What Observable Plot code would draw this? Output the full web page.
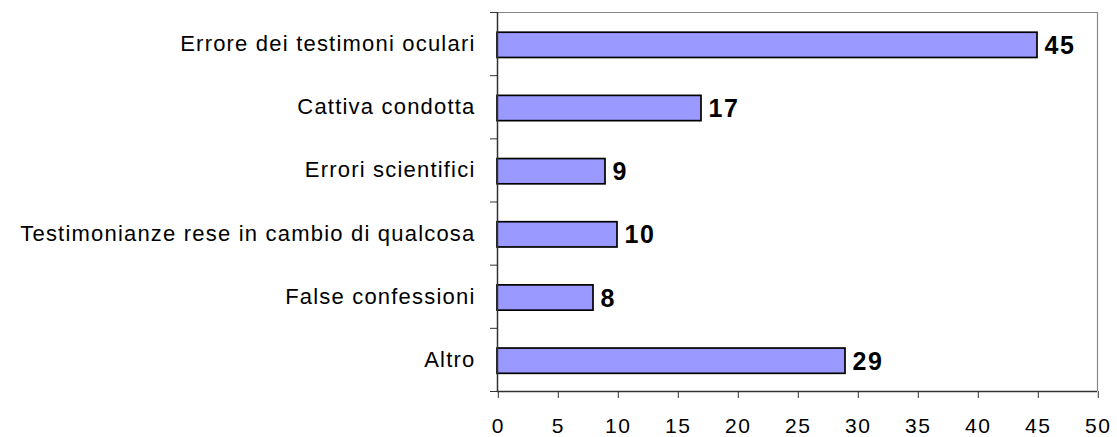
<!DOCTYPE html>
<html>
<head>
<meta charset="utf-8">
<script src="https://cdn.jsdelivr.net/npm/d3@7"></script>
<script src="https://cdn.jsdelivr.net/npm/@observablehq/plot@0.6"></script>
<style>
  html, body { margin: 0; padding: 0; background: #fff; }
  svg { display: block; }
  svg.chart g[aria-label="y-axis tick label"] text { letter-spacing: 1.2px; }
  svg.chart g[aria-label="x-axis tick label"] text { letter-spacing: 1.6px; }
  svg.chart g[aria-label="text"] text { letter-spacing: 1.5px; }
</style>
</head>
<body>
<div id="chart"></div>
<script>
const categories = [
  "Errore dei testimoni oculari",
  "Cattiva condotta",
  "Errori scientifici",
  "Testimonianze rese in cambio di qualcosa",
  "False confessioni",
  "Altro"
];
const values = [45, 17, 9, 10, 8, 29];
const xTicks = [0, 5, 10, 15, 20, 25, 30, 35, 40, 45, 50];

const data = categories.map((c, i) => ({category: c, index: i, value: values[i]}));
const bandEdges = d3.range(categories.length + 1);
const bandCenters = categories.map((c, i) => i + 0.5);

const font = "'Liberation Sans', Arial, sans-serif";

const chart = Plot.plot({
  width: 1117,
  height: 437,
  marginLeft: 497,
  marginRight: 20,
  marginTop: 12,
  marginBottom: 46,
  className: "chart",
  style: {fontFamily: font, background: "#fff", color: "#000"},
  x: {domain: [0, 50]},
  y: {domain: [0, categories.length], reverse: true},
  marks: [
    Plot.ruleY([0], {stroke: "#888", strokeWidth: 1.2}),
    Plot.ruleX([50], {stroke: "#888", strokeWidth: 1.2}),
    Plot.rect(data, {
      x1: 0,
      x2: "value",
      y1: d => d.index + 0.32,
      y2: d => d.index + 0.72,
      fill: "#9999ff",
      stroke: "#000",
      strokeWidth: 1.7
    }),
    Plot.text(data, {
      x: "value",
      y: d => d.index + 0.53,
      text: d => String(d.value),
      dx: 7,
      textAnchor: "start",
      fontSize: 25,
      fontWeight: "bold",
      fill: "#000"
    }),
    Plot.axisY({
      ticks: bandEdges,
      tickSize: 7,
      tickFormat: () => "",
      stroke: "#333"
    }),
    Plot.axisY({
      ticks: bandCenters,
      tickSize: 0,
      tickPadding: 22,
      tickFormat: v => categories[Math.floor(v)],
      fontSize: 22,
      label: null
    }),
    Plot.axisX({
      ticks: xTicks,
      tickSize: 7,
      tickPadding: 20,
      fontSize: 21,
      dx: 0.8,
      label: null,
      stroke: "#333"
    }),
    Plot.ruleX([0], {stroke: "#333", strokeWidth: 1.5}),
    Plot.ruleY([categories.length], {stroke: "#333", strokeWidth: 1.5})
  ]
});
document.getElementById("chart").appendChild(chart);
</script>
</body>
</html>
